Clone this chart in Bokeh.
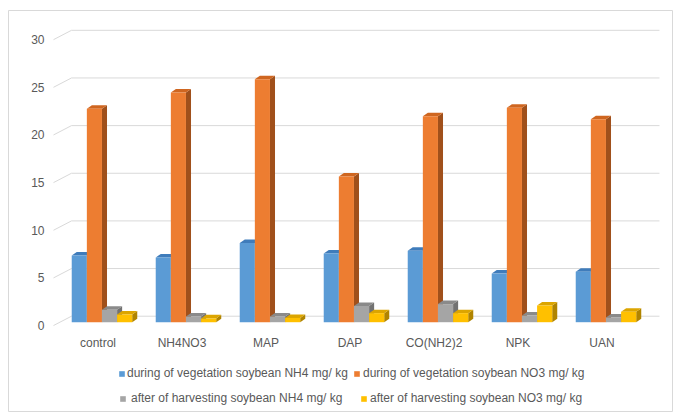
from bokeh.plotting import figure
from bokeh.models import Legend, LegendItem, Range1d
from bokeh.embed import file_html
from bokeh.resources import INLINE
from bokeh.core.properties import value

# ---------------- data ----------------
categories = ["control", "NH4NO3", "MAP", "DAP", "CO(NH2)2", "NPK", "UAN"]
veg_nh4 = [7.0, 6.8, 8.3, 7.2, 7.5, 5.1, 5.3]
veg_no3 = [22.4, 24.1, 25.5, 15.3, 21.6, 22.5, 21.3]
harv_nh4 = [1.3, 0.6, 0.6, 1.7, 1.9, 0.7, 0.5]
harv_no3 = [0.8, 0.4, 0.45, 0.95, 0.95, 1.75, 1.1]
series_names = [
    "during of vegetation soybean NH4 mg/ kg",
    "during of vegetation soybean NO3 mg/ kg",
    "after of harvesting soybean NH4 mg/ kg",
    "after of harvesting soybean NO3 mg/ kg",
]
y_ticks = [0, 5, 10, 15, 20, 25, 30]

# ---------------- styles / geometry ----------------
W, H = 673, 412
front_colors = ["#5b9bd5", "#ed7d31", "#a5a5a5", "#ffc000"]
top_colors = ["#3f7cbb", "#cf6620", "#8a8a8a", "#dca500"]
side_colors = ["#36689a", "#a0501b", "#727272", "#b08400"]
text_color = "#595959"
grid_color = "#d9d9d9"
FONT = "Liberation Sans"

front_dy = -0.35   # front edge of floor (value units)
back_dy = 0.63     # back wall offset (value units)
back_dx = 0.214    # back wall offset (category units)
group_shift = 0.077
bar_w = 0.18
depth_dx = 0.06
depth_dy = 0.37

p = figure(width=W, height=H, output_backend="svg", toolbar_location=None,
           x_range=Range1d(-45 / 84, 620 / 84),
           y_range=Range1d(-9.475, 32.71),
           min_border=0, min_border_left=8, min_border_right=0,
           min_border_top=10, min_border_bottom=0)
p.axis.visible = False
p.grid.visible = False
p.outline_line_color = grid_color
p.background_fill_color = "white"
p.border_fill_color = "white"

n = len(categories)
# back-wall gridlines and diagonal side lines
p.segment(x0=[back_dx] * len(y_ticks), x1=[n + back_dx] * len(y_ticks),
          y0=[v + back_dy for v in y_ticks], y1=[v + back_dy for v in y_ticks],
          line_color=grid_color, line_width=1)
p.segment(x0=[0] * len(y_ticks), x1=[back_dx] * len(y_ticks),
          y0=[v + front_dy for v in y_ticks], y1=[v + back_dy for v in y_ticks],
          line_color=grid_color, line_width=1)

# tick labels
p.text(x=[0] * len(y_ticks), y=[v + front_dy for v in y_ticks],
       text=[str(v) for v in y_ticks], x_offset=-9,
       text_align="right", text_baseline="middle",
       text_font=value(FONT), text_font_size="12px", text_color=text_color)

# category labels
p.text(x=[i + 0.53 for i in range(n)], y=[-2.15] * n, text=categories,
       text_align="center", text_baseline="middle",
       text_font=value(FONT), text_font_size="12px", text_color=text_color)

all_series = [veg_nh4, veg_no3, harv_nh4, harv_no3]
renderers = []
for k, vals in enumerate(all_series):
    offs = (k - 1.5) * bar_w
    xc = [i + 0.5 + group_shift + offs for i in range(n)]
    xl = [x - bar_w / 2 for x in xc]
    xr = [x + bar_w / 2 for x in xc]
    side_xs = [[r, r + depth_dx, r + depth_dx, r] for r in xr]
    side_ys = [[0, depth_dy, v + depth_dy, v] for v in vals]
    top_xs = [[l, l + depth_dx, r + depth_dx, r] for l, r in zip(xl, xr)]
    top_ys = [[v, v + depth_dy, v + depth_dy, v] for v in vals]
    p.patches(xs=side_xs, ys=side_ys, fill_color=side_colors[k], line_color=None)
    p.patches(xs=top_xs, ys=top_ys, fill_color=top_colors[k], line_color=None)
    r = p.vbar(x=xc, top=vals, bottom=0, width=bar_w,
               fill_color=front_colors[k], line_color=None)
    renderers.append(r)

# legends (four single-item legends for precise placement)
leg_pos = [(110, 32), (345, 32), (111, 7), (352, 7)]
standoffs = [2, 3, 5, 3]
for k in range(4):
    leg = Legend(items=[LegendItem(label=series_names[k], renderers=[renderers[k]])],
                 location=leg_pos[k], orientation="horizontal",
                 glyph_width=7, glyph_height=7, label_height=14,
                 label_standoff=standoffs[k], padding=0, margin=0, spacing=0,
                 label_text_font=FONT, label_text_font_size="12px",
                 label_text_color=text_color,
                 background_fill_alpha=0, border_line_alpha=0)
    p.add_layout(leg, "center")

open("out.html", "w").write(file_html(p, INLINE))
